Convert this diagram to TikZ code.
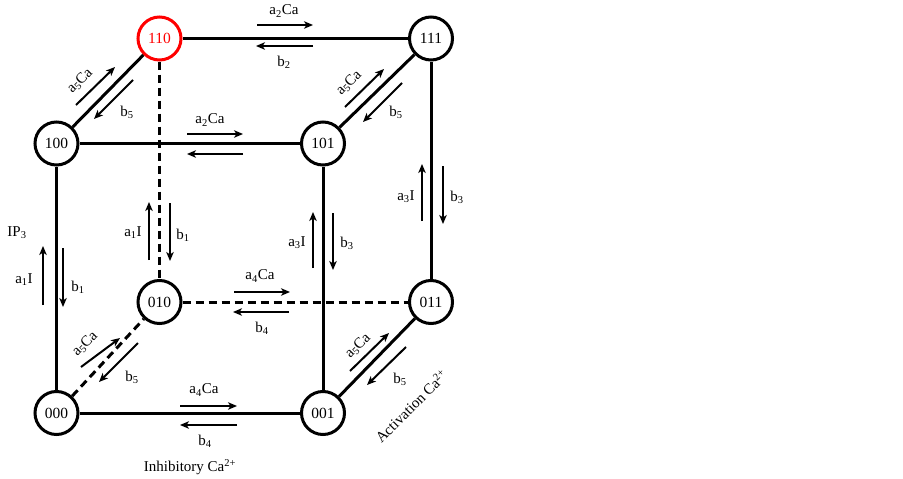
\documentclass[tikz,border=0pt]{standalone}
\usepackage{fontspec}
\setmainfont{Liberation Serif}
\usetikzlibrary{arrows.meta}
\begin{document}
\begin{tikzpicture}[x=1pt,y=-1pt,
  state/.style={circle,draw,line width=3pt,minimum size=43pt,inner sep=0pt,font=\fontsize{15.5}{17}\selectfont},
  edge/.style={line width=3pt},
  dedge/.style={line width=3pt,dash pattern=on 8pt off 5pt},
  rarr/.style={line width=2pt,-{Stealth[length=9pt,width=7.5pt,inset=2.5pt]}},
  lbl/.style={font=\fontsize{15}{17}\selectfont,inner sep=0pt}]
\useasboundingbox (0,0) rectangle (903,479);
% states
\node[state,draw=red,text=red] (s110) at (159.5,38.5) {110};
\node[state] (s111) at (431,38.5) {111};
\node[state] (s100) at (56.5,143.5) {100};
\node[state] (s101) at (323,143.5) {101};
\node[state] (s010) at (159.5,302) {010};
\node[state] (s011) at (431,302) {011};
\node[state] (s000) at (56.5,413) {000};
\node[state] (s001) at (323,413) {001};
% edges
\draw[dedge] (s110) -- (s010);
\draw[dedge] (s010) -- (s011);
\draw[dedge] (s000) -- (s010);
\draw[edge] (s110) -- (s111);
\draw[edge] (s100) -- (s101);
\draw[edge] (s100) -- (s110);
\draw[edge] (s101) -- (s111);
\draw[edge] (s100) -- (s000);
\draw[edge] (s101) -- (s001);
\draw[edge] (s111) -- (s011);
\draw[edge] (s000) -- (s001);
\draw[edge] (s001) -- (s011);
% top edge 110-111
\coordinate (t1) at (257,25); \coordinate (t2) at (313,25);
\coordinate (t3) at (313,46); \coordinate (t4) at (256,46);
\draw[rarr] (t1) -- (t2);
\draw[rarr] (t3) -- (t4);
\node[lbl] (l1) at (284,11) {a\textsubscript{2}Ca};
\node[lbl] (l2) at (284,62) {b\textsubscript{2}};
% 100-101
\coordinate (m1) at (187,134); \coordinate (m2) at (243,134);
\coordinate (m3) at (243,154); \coordinate (m4) at (187,154);
\draw[rarr] (m1) -- (m2);
\draw[rarr] (m3) -- (m4);
\node[lbl] (l3) at (210,120) {a\textsubscript{2}Ca};
% 100-110 diagonal
\coordinate (d1) at (76,105); \coordinate (d2) at (115,67);
\coordinate (d3) at (133,80); \coordinate (d4) at (94,119);
\draw[rarr] (d1) -- (d2);
\draw[rarr] (d3) -- (d4);
\node[lbl,rotate=45] (l4) at (80,81) {a\textsubscript{5}Ca};
\node[lbl] (l5) at (127,112) {b\textsubscript{5}};
% 101-111 diagonal
\coordinate (e1) at (345,107); \coordinate (e2) at (384,69);
\coordinate (e3) at (402,83); \coordinate (e4) at (363,122);
\draw[rarr] (e1) -- (e2);
\draw[rarr] (e3) -- (e4);
\node[lbl,rotate=45] (l6) at (349,83) {a\textsubscript{5}Ca};
\node[lbl] (l7) at (396,112) {b\textsubscript{5}};
% 000-010 diagonal
\coordinate (f1) at (81,367); \coordinate (f2) at (120,338);
\coordinate (f3) at (138,343); \coordinate (f4) at (99,382);
\draw[rarr] (f1) -- (f2);
\draw[rarr] (f3) -- (f4);
\node[lbl,rotate=45] (l8) at (85,344) {a\textsubscript{5}Ca};
\node[lbl] (l9) at (132,377) {b\textsubscript{5}};
% 001-011 diagonal
\coordinate (g1) at (350,371); \coordinate (g2) at (389,333);
\coordinate (g3) at (406,347); \coordinate (g4) at (367,385);
\draw[rarr] (g1) -- (g2);
\draw[rarr] (g3) -- (g4);
\node[lbl,rotate=45] (l10) at (358,346) {a\textsubscript{5}Ca};
\node[lbl] (l11) at (400,379) {b\textsubscript{5}};
% 000-001
\coordinate (h1) at (180,406); \coordinate (h2) at (237,406);
\coordinate (h3) at (237,425); \coordinate (h4) at (180,425);
\draw[rarr] (h1) -- (h2);
\draw[rarr] (h3) -- (h4);
\node[lbl] (l12) at (204,390) {a\textsubscript{4}Ca};
\node[lbl] (l13) at (205,441) {b\textsubscript{4}};
% 010-011
\coordinate (k1) at (234,292); \coordinate (k2) at (290,292);
\coordinate (k3) at (289,312); \coordinate (k4) at (233,312);
\draw[rarr] (k1) -- (k2);
\draw[rarr] (k3) -- (k4);
\node[lbl] (l14) at (260,276) {a\textsubscript{4}Ca};
\node[lbl] (l15) at (262,328) {b\textsubscript{4}};
% 000-100 vertical
\coordinate (v1) at (43,305); \coordinate (v2) at (43,246);
\coordinate (v3) at (63,248); \coordinate (v4) at (63,307);
\draw[rarr] (v1) -- (v2);
\draw[rarr] (v3) -- (v4);
\node[lbl] (l16) at (24,280) {a\textsubscript{1}I};
\node[lbl] (l17) at (78,287) {b\textsubscript{1}};
\node[lbl] (l18) at (17,233) {IP\textsubscript{3}};
% 010-110 vertical
\coordinate (w1) at (149,260); \coordinate (w2) at (149,202);
\coordinate (w3) at (170,203); \coordinate (w4) at (170,261);
\draw[rarr] (w1) -- (w2);
\draw[rarr] (w3) -- (w4);
\node[lbl] (l19) at (133,233) {a\textsubscript{1}I};
\node[lbl] (l20) at (183,235) {b\textsubscript{1}};
% 001-101 vertical
\coordinate (u1) at (313,268); \coordinate (u2) at (313,212);
\coordinate (u3) at (333,213); \coordinate (u4) at (333,270);
\draw[rarr] (u1) -- (u2);
\draw[rarr] (u3) -- (u4);
\node[lbl] (l21) at (297,243) {a\textsubscript{3}I};
\node[lbl] (l22) at (347,243) {b\textsubscript{3}};
% 011-111 vertical
\coordinate (p1) at (422,221); \coordinate (p2) at (422,164);
\coordinate (p3) at (443,166); \coordinate (p4) at (443,224);
\draw[rarr] (p1) -- (p2);
\draw[rarr] (p3) -- (p4);
\node[lbl] (l23) at (406,197) {a\textsubscript{3}I};
\node[lbl] (l24) at (457,197) {b\textsubscript{3}};
% captions
\node[lbl] (c1) at (190,467) {Inhibitory Ca\textsuperscript{2+}};
\node[lbl,rotate=45] (c2) at (411,406) {Activation Ca\textsuperscript{2+}};
\end{tikzpicture}
\end{document}
